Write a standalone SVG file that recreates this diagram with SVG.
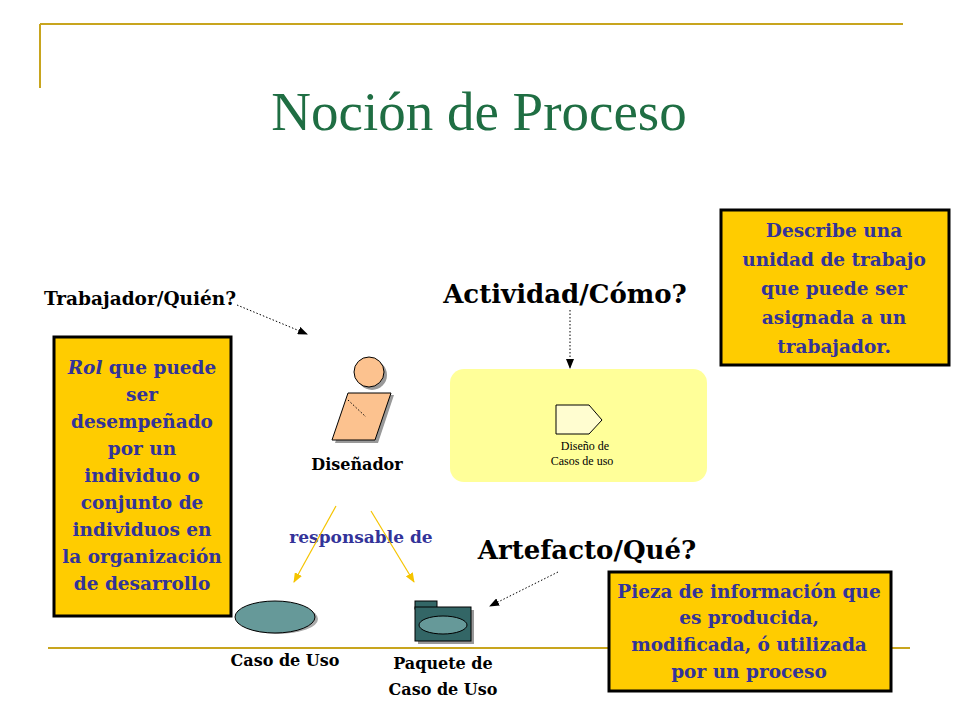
<svg xmlns="http://www.w3.org/2000/svg" width="960" height="720" viewBox="0 0 960 720">
<style>
.s{font-family:"DejaVu Serif",serif;font-weight:bold}
.bx{fill:#ffcc00;stroke:#000;stroke-width:3}
.bt{font-family:"DejaVu Serif",serif;font-weight:bold;font-size:18.5px;fill:#333399;text-anchor:middle}
.rule{stroke:#c8a51e;stroke-width:2}
.dot{stroke:#000;stroke-width:1;stroke-dasharray:1.5 2;fill:none}
.yl{stroke:#f5c400;stroke-width:1.2;fill:none}
</style>
<defs>
<marker id="ab" markerWidth="10" markerHeight="8" refX="9" refY="4" orient="auto" markerUnits="userSpaceOnUse"><path d="M0,0L10,4L0,8z" fill="#000"/></marker>
<marker id="ay" markerWidth="10" markerHeight="8" refX="9" refY="4" orient="auto" markerUnits="userSpaceOnUse"><path d="M0,0L10,4L0,8z" fill="#f5c400"/></marker>
</defs>
<rect width="960" height="720" fill="#fff"/>
<line class="rule" x1="40" y1="24" x2="903" y2="24"/>
<line class="rule" x1="40" y1="24" x2="40" y2="88"/>
<line class="rule" x1="48" y1="648" x2="910" y2="648"/>
<text x="479" y="130" text-anchor="middle" font-family="Liberation Serif,serif" font-size="55" fill="#1f6e43">Noción de Proceso</text>

<g id="rol"><rect class="bx" x="54" y="337" width="177" height="279"/>
<text class="bt"><tspan x="142" y="374"><tspan font-style="italic">Rol</tspan> que puede</tspan><tspan x="142" y="401">ser</tspan><tspan x="142" y="428">desempeñado</tspan><tspan x="142" y="455">por un</tspan><tspan x="142" y="482">individuo o</tspan><tspan x="142" y="509">conjunto de</tspan><tspan x="142" y="536">individuos en</tspan><tspan x="142" y="563">la organización</tspan><tspan x="142" y="590">de desarrollo</tspan></text></g>

<g id="desc"><rect class="bx" x="721" y="210" width="228" height="155"/>
<text class="bt"><tspan x="834" y="237">Describe una</tspan><tspan x="834" y="266">unidad de trabajo</tspan><tspan x="834" y="295">que puede ser</tspan><tspan x="834" y="324">asignada a un</tspan><tspan x="834" y="353">trabajador.</tspan></text></g>

<g id="pieza"><rect class="bx" x="609" y="572" width="282" height="119"/>
<text class="bt"><tspan x="749" y="598">Pieza de información que</tspan><tspan x="749" y="624">es producida,</tspan><tspan x="749" y="651">modificada, ó utilizada</tspan><tspan x="749" y="678">por un proceso</tspan></text></g>

<text class="s" x="140" y="305" font-size="18.5" text-anchor="middle">Trabajador/Quién?</text>
<text class="s" x="565" y="303" font-size="26" text-anchor="middle">Actividad/Cómo?</text>
<text class="s" x="587" y="559" font-size="26" text-anchor="middle">Artefacto/Qué?</text>

<g id="disenador">
<circle cx="372" cy="375" r="15" fill="#999"/>
<path d="M351,395L394,395L378,443L335,443z" fill="#999"/>
<circle cx="369" cy="372" r="15" fill="#fcc28f" stroke="#000"/>
<path d="M348,393L391,393L375,440L332,440z" fill="#fcc28f" stroke="#000"/>
<path d="M348,400L366,417" class="dot"/>
<text class="s" x="357" y="470" font-size="16" text-anchor="middle">Diseñador</text></g>

<g id="actividad">
<rect x="450" y="369" width="257" height="113" rx="14" fill="#ffff99"/>
<path d="M556,405L589,405L602,420L589,434L556,434z" fill="#fffdd0" stroke="#000"/>
<text font-family="Liberation Serif,serif" font-size="12" text-anchor="middle"><tspan x="585" y="450">Diseño de</tspan><tspan x="582" y="465">Casos de uso</tspan></text></g>

<g id="caso">
<ellipse cx="278" cy="619" rx="40" ry="15" fill="#aaa"/>
<ellipse cx="275" cy="617" rx="40" ry="16" fill="#669999" stroke="#000"/>
<text class="s" x="285" y="666" font-size="16" text-anchor="middle">Caso de Uso</text></g>

<g id="paquete">
<rect x="418" y="610" width="56" height="34" fill="#999"/>
<rect x="415" y="601" width="22" height="8" fill="#336666" stroke="#000"/>
<rect x="415" y="607" width="56" height="34" fill="#336666" stroke="#000"/>
<ellipse cx="443" cy="625" rx="24" ry="9" fill="#669999" stroke="#000"/>
<text class="s" font-size="16" text-anchor="middle"><tspan x="443" y="669">Paquete de</tspan><tspan x="443" y="695">Caso de Uso</tspan></text></g>

<text class="s" x="361" y="543" font-size="17" text-anchor="middle" fill="#333399">responsable de</text>

<g id="connectors">
<path class="dot" d="M237,305L307,334" marker-end="url(#ab)"/>
<path class="dot" d="M570,310L570,368" marker-end="url(#ab)"/>
<path class="dot" d="M558,572L490,606" marker-end="url(#ab)"/>
<path class="yl" d="M336,506L294,582" marker-end="url(#ay)"/>
<path class="yl" d="M371,511L414,582" marker-end="url(#ay)"/>
</g>
</svg>
